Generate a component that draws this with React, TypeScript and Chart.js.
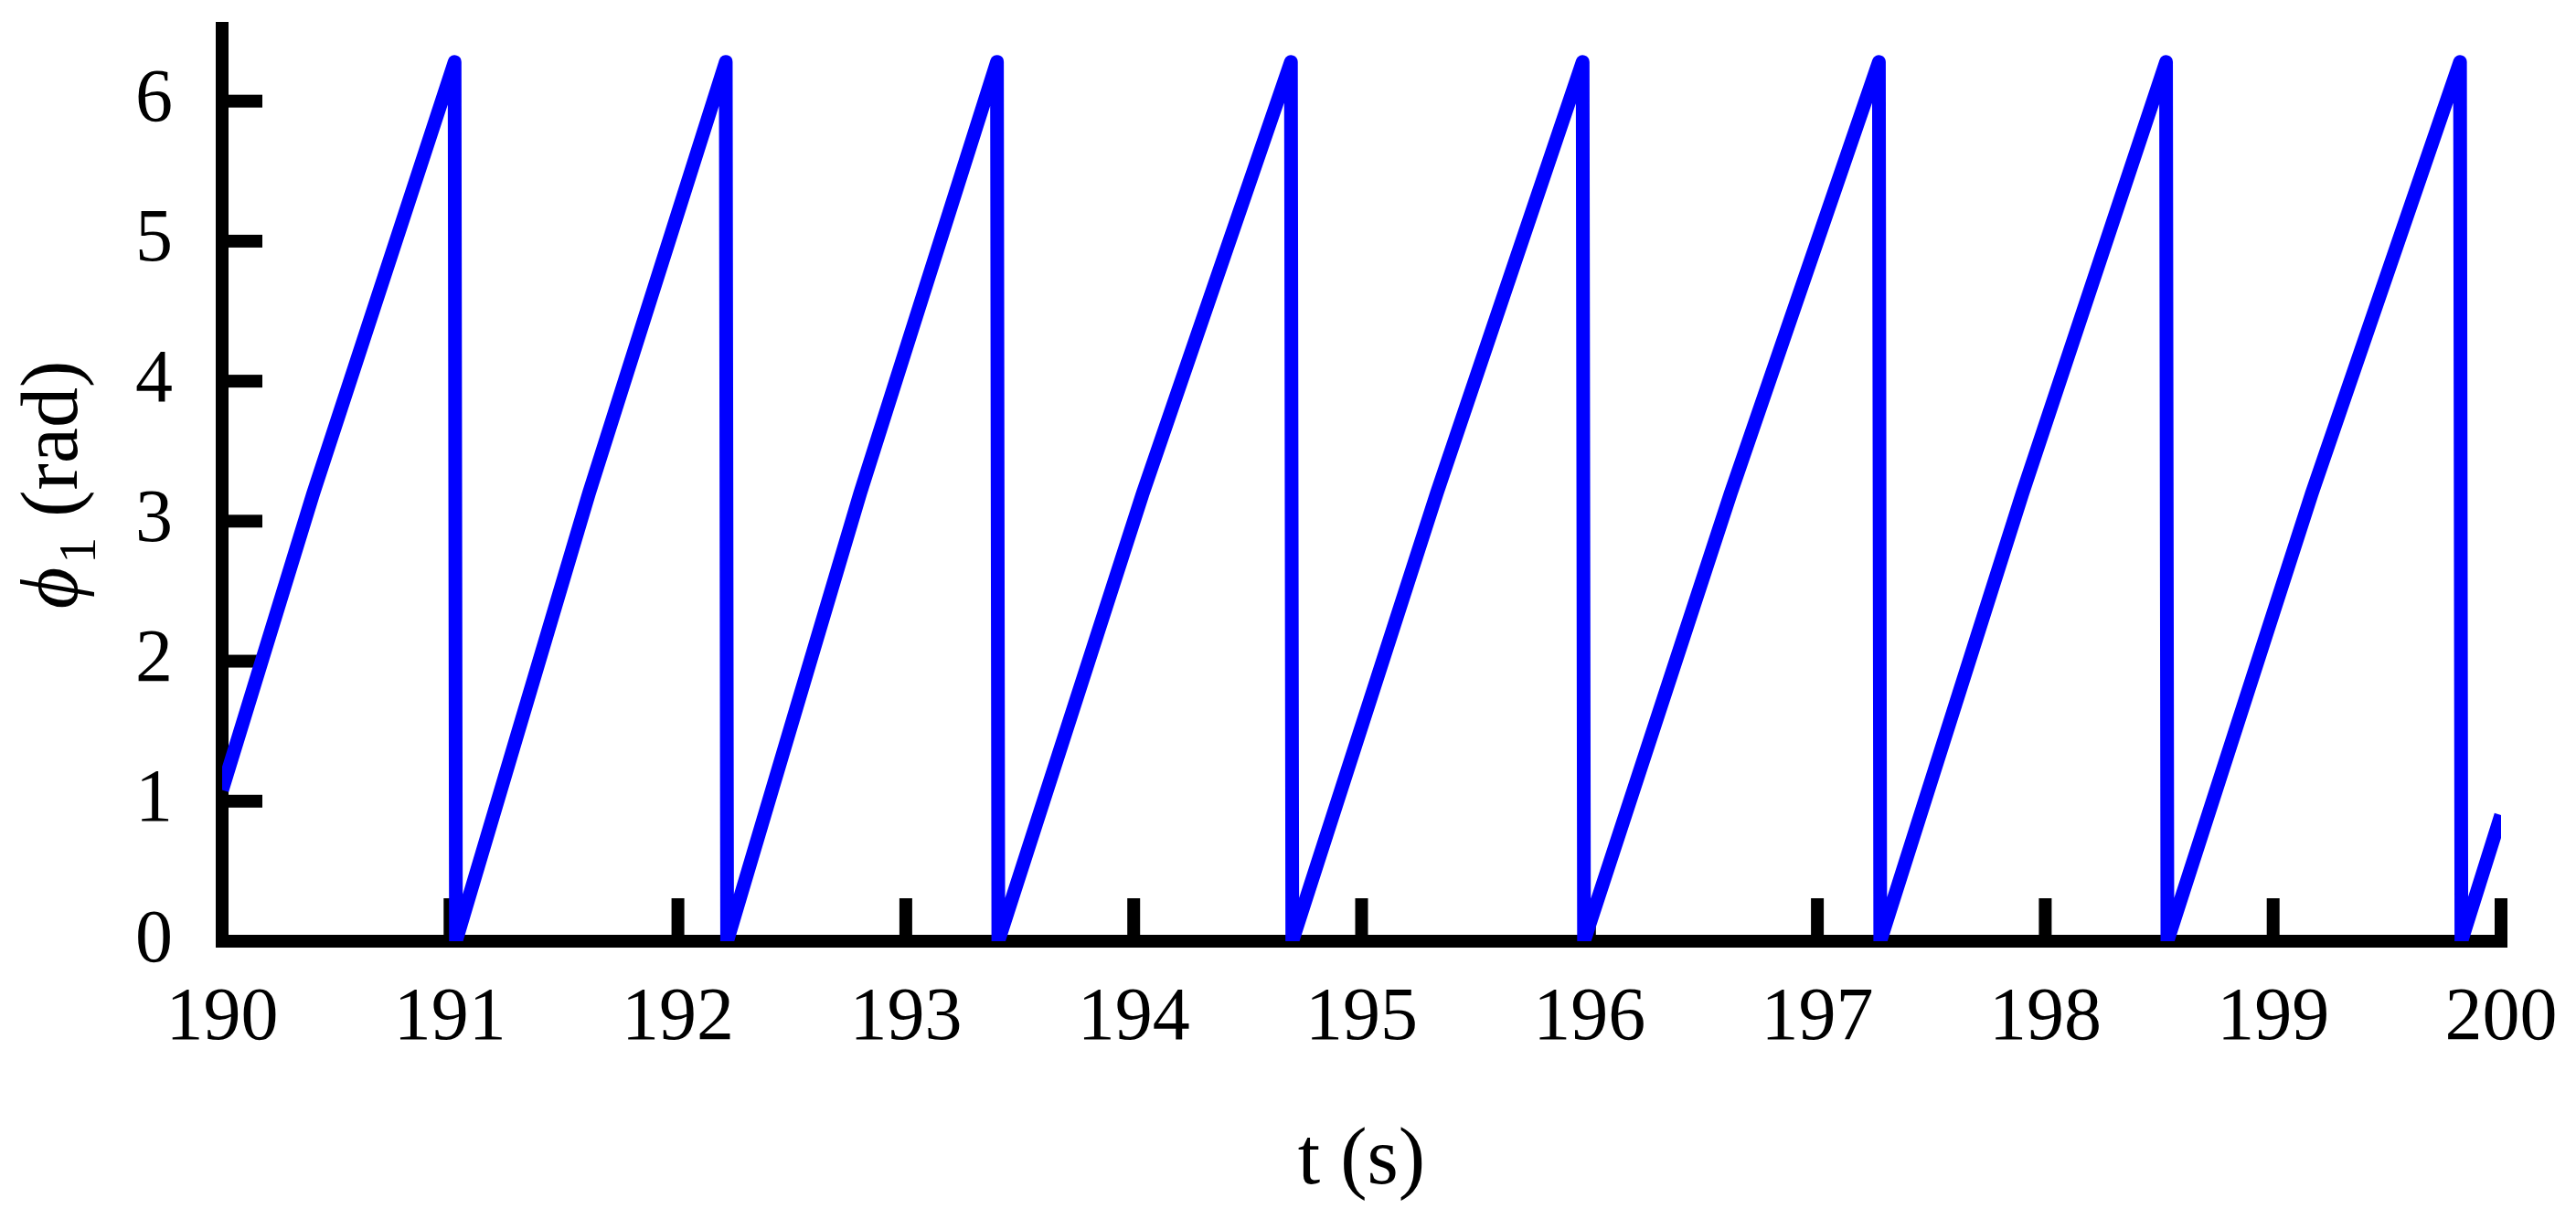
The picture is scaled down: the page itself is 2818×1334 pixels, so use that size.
import React, { useEffect, useRef } from "react";
import { Chart, registerables } from "chart.js";

Chart.register(...registerables);

// time (s)
const tValues = [
  190.0, 190.4, 191.02,
  191.026, 191.61, 192.21,
  192.216, 192.8, 193.4,
  193.406, 194.04, 194.69,
  194.696, 195.33, 195.97,
  195.976, 196.62, 197.27,
  197.276, 197.9, 198.53,
  198.536, 199.17, 199.82,
  199.826, 200.0,
];
// phase phi_1 (rad)
const phiValues = [
  1.08, 3.2, 6.28,
  0.0, 3.2, 6.28,
  0.0, 3.2, 6.28,
  0.0, 3.2, 6.28,
  0.0, 3.2, 6.28,
  0.0, 3.2, 6.28,
  0.0, 3.2, 6.28,
  0.0, 3.2, 6.28,
  0.0, 0.9,
];
const xTickValues = [190, 191, 192, 193, 194, 195, 196, 197, 198, 199, 200];
const yTickValues = [0, 1, 2, 3, 4, 5, 6];
const xTitle = "t (s)";
const yTitleSymbol = "ϕ";
const yTitleSub = "1";
const yTitleUnit = " (rad)";

const FONT = "'Liberation Serif', 'Times New Roman', serif";

const inwardTicks = {
  id: "inwardTicks",
  beforeDatasetsDraw(chart: any) {
    const { ctx, chartArea } = chart;
    const x = chart.scales.x;
    const y = chart.scales.y;
    ctx.save();
    ctx.fillStyle = "#000";
    x.ticks.forEach((t: any) => {
      const px = x.getPixelForValue(t.value);
      ctx.fillRect(px - 7, chartArea.bottom - 47, 14, 47);
    });
    y.ticks.forEach((t: any) => {
      const py = y.getPixelForValue(t.value);
      ctx.fillRect(chartArea.left, py - 7, 44, 14);
    });
    ctx.restore();
  },
};

const yTitlePlugin = {
  id: "yTitle",
  afterDraw(chart: any) {
    const { ctx, chartArea } = chart;
    const cy = (chartArea.top + chartArea.bottom) / 2;
    ctx.save();
    ctx.fillStyle = "#000";
    ctx.textBaseline = "alphabetic";
    ctx.textAlign = "left";
    const fMain = `88px ${FONT}`;
    const fItal = `italic 88px ${FONT}`;
    const fSub = `58px ${FONT}`;
    ctx.font = fItal;
    const w1 = ctx.measureText(yTitleSymbol).width;
    ctx.font = fSub;
    const w2 = ctx.measureText(yTitleSub).width;
    ctx.font = fMain;
    const w3 = ctx.measureText(yTitleUnit).width;
    const total = w1 + 4 + w2 + w3;
    ctx.translate(84, cy);
    ctx.rotate(-Math.PI / 2);
    let pos = -total / 2;
    ctx.font = fItal;
    ctx.fillText(yTitleSymbol, pos, 0);
    pos += w1 + 4;
    ctx.font = fSub;
    ctx.fillText(yTitleSub, pos, 20);
    pos += w2;
    ctx.font = fMain;
    ctx.fillText(yTitleUnit, pos, 0);
    ctx.restore();
  },
};

export default function App() {
  const ref = useRef<HTMLCanvasElement | null>(null);

  useEffect(() => {
    if (!ref.current) return;
    const chart = new Chart(ref.current, {
      type: "line",
      data: {
        datasets: [
          {
            data: tValues.map((t, i) => ({ x: t, y: phiValues[i] })),
            borderColor: "#0000ff",
            borderWidth: 15,
            pointRadius: 0,
            tension: 0,
            fill: false,
            borderJoinStyle: "round",
            borderCapStyle: "butt",
          },
        ],
      },
      options: {
        animation: false,
        responsive: false,
        devicePixelRatio: 1,
        layout: { padding: { left: 0, right: 82, top: 31, bottom: 0 } },
        plugins: {
          legend: { display: false },
          tooltip: { enabled: false },
        },
        scales: {
          x: {
            type: "linear",
            min: 190,
            max: 200,
            afterBuildTicks: (s: any) => {
              s.ticks = xTickValues.map((v) => ({ value: v }));
            },
            afterFit: (s: any) => {
              s.height = 304;
              s.paddingLeft = 0;
              s.paddingRight = 0;
            },
            ticks: {
              color: "#000",
              font: { family: FONT, size: 82 },
              padding: 36,
              maxRotation: 0,
              autoSkip: false,
              callback: (v: any) => String(v),
            },
            grid: { display: false, drawTicks: false, lineWidth: 14 },
            border: { display: true, color: "#000", width: 14 },
            title: {
              display: true,
              text: xTitle,
              color: "#000",
              font: { family: FONT, size: 88 },
              padding: { top: 0, bottom: 9 },
            },
          },
          y: {
            type: "linear",
            min: 0,
            max: 6.52,
            afterBuildTicks: (s: any) => {
              s.ticks = yTickValues.map((v) => ({ value: v }));
            },
            afterFit: (s: any) => {
              s.width = 243;
              s.paddingTop = 0;
              s.paddingBottom = 0;
            },
            ticks: {
              color: "#000",
              font: { family: FONT, size: 82 },
              padding: 54,
              autoSkip: false,
              callback: (v: any) => String(v),
            },
            grid: { display: false, drawTicks: false, lineWidth: 14 },
            border: { display: true, color: "#000", width: 14 },
          },
        },
      },
      plugins: [inwardTicks, yTitlePlugin],
    } as any);
    return () => chart.destroy();
  }, []);

  return (
    <div style={{ position: "absolute", left: 0, top: 0, width: 2818, height: 1334, background: "#fff" }}>
      <canvas ref={ref} width={2818} height={1334} style={{ display: "block" }} />
    </div>
  );
}
